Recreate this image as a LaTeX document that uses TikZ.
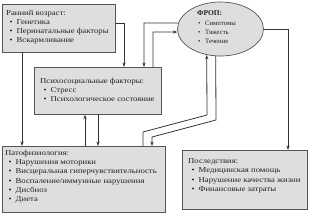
\documentclass[tikz,border=0pt]{standalone}
\usepackage{fontspec}
\setmainfont{Liberation Serif}
\newfontfamily\widefont[FakeStretch=1.16]{Liberation Serif}
\usetikzlibrary{arrows.meta,shapes.geometric,calc}
\definecolor{boxfill}{HTML}{DEDEDE}
\definecolor{boxline}{HTML}{555555}
\definecolor{lineclr}{HTML}{333333}
\definecolor{txtclr}{HTML}{222222}
\newcommand\bitem[1]{\hspace*{3.5pt}\makebox[7pt][l]{\textbullet}#1}
\begin{document}
\begin{tikzpicture}[x=1pt,y=-1pt,
 box/.style={draw=boxline, fill=boxfill, line width=0.7pt, inner sep=0pt, anchor=north west},
 txt/.style={anchor=north west, inner sep=0pt, align=left, text=txtclr, font=\fontsize{7.5}{9.2}\selectfont\widefont},
 etxt/.style={anchor=north west, inner sep=0pt, align=left, text=txtclr, font=\fontsize{6.7}{9}\selectfont},
 conn/.style={draw=lineclr, line width=0.8pt},
 arr/.style={conn, -{Stealth[length=4.5pt,width=3.2pt]}}]
\useasboundingbox (0,0) rectangle (309,215);
% boxes
\node[box, minimum width=113pt, minimum height=48pt] (early) at (2,4) {};
\node[box, minimum width=127pt, minimum height=47pt] (psy) at (34,67) {};
\node[box, minimum width=163pt, minimum height=66pt] (pat) at (2,146) {};
\node[box, minimum width=125pt, minimum height=59pt] (pos) at (182,150) {};
\node[draw=boxline, fill=boxfill, line width=0.7pt, ellipse, minimum width=86pt, minimum height=54pt, inner sep=0pt] (frop) at (220.5,29) {};
% texts
\node[txt] (earlyt) at (6,10) {Ранний возраст:\\ \bitem{Генетика}\\ \bitem{Перинатальные факторы}\\ \bitem{Вскармливание}};
\node[txt] (psyt) at (40,78) {Психосоциальные факторы:\\ \bitem{Стресс}\\ \bitem{Психологическое состояние}};
\node[txt] (patt) at (5,150) {Патофизиология:\\ \bitem{Нарушения моторики}\\ \bitem{Висцеральная гиперчувствительность}\\ \bitem{Воспаление/иммунные нарушения}\\ \bitem{Дисбиоз}\\ \bitem{Диета}};
\node[txt] (post) at (188,158.5) {Последствия:\\ \bitem{Медицинская помощь}\\ \bitem{Нарушение качества жизни}\\ \bitem{Финансовые затраты}};
\node[etxt, font=\fontsize{7.4}{9}\selectfont\bfseries] (fropt) at (197,10.5) {ФРОП:};
\node[etxt] (fropl) at (194.5,21.2) {\bitem{Симптомы}\\ \bitem{Тяжесть}\\ \bitem{Течение}};
% connectors
\draw[arr] (early.north east |- 0,23) -- (124,23) coordinate (c1) -- (c1 |- psy.north);
\draw[arr] (frop.172) -- (144,23) coordinate (c2) -- (c2 |- psy.north);
\draw[arr] (153,67) coordinate (c3) -- (153,32) -- (frop.184);
\draw[arr] (frop.east) -- (288,29) coordinate (c4) -- (c4 |- pos.north);
\draw[arr] (22,52) coordinate (c5) -- (c5 |- pat.north);
\draw[arr] (85,146) coordinate (c6) -- (c6 |- psy.south);
\draw[arr] (98,114) coordinate (c7) -- (c7 |- pat.north);
\draw[arr] (143,146) coordinate (c8) -- (143,132) -- (207,115) coordinate (c9) -- (frop.242);
\draw[arr] (frop.260.5) -- (216,120) -- (152,137) coordinate (c10) -- (c10 |- pat.north);
\end{tikzpicture}
\end{document}
